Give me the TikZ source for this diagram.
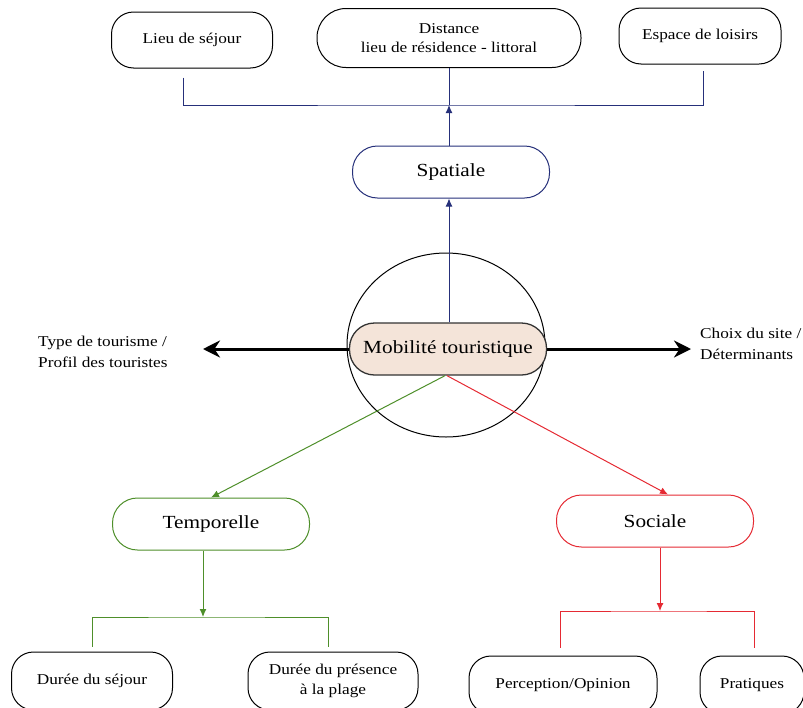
\documentclass[tikz,border=0pt]{standalone}
\usepackage{fontspec}
\setmainfont[FakeStretch=1.15]{Liberation Serif}
\usepackage{xcolor}
\usepackage{tikz}
\usetikzlibrary{arrows.meta,positioning,shapes.geometric}
\definecolor{navy}{HTML}{26307A}
\definecolor{leafgreen}{HTML}{4E8F2A}
\definecolor{alertred}{HTML}{E52A33}
\definecolor{sand}{HTML}{F4E4D9}
\tikzset{
  leafbox/.style={
    rounded corners=22pt,draw=black,fill=white,
    line width=1pt,minimum height=56pt,inner sep=2pt,
    align=center,font=\fontsize{15}{19.5}\selectfont
  },
  dimbox/.style={
    rounded corners=25pt,fill=white,
    line width=1pt,minimum width=197pt,minimum height=52pt,
    align=center,font=\fontsize{18.5}{22}\selectfont
  },
  corebox/.style={
    dimbox,draw=black!80,fill=sand,line width=1.3pt
  },
  sidelabel/.style={
    inner sep=0pt,align=left,font=\fontsize{15}{20.5}\selectfont
  },
  navyline/.style={draw=navy,line width=1pt},
  navyarrow/.style={-{Latex[length=8pt,width=7pt]},draw=navy,line width=1pt},
  greenline/.style={draw=leafgreen,line width=1pt},
  greenarrow/.style={-{Latex[length=8pt,width=7pt]},draw=leafgreen,line width=1pt},
  redline/.style={draw=alertred,line width=1pt},
  redarrow/.style={-{Latex[length=8pt,width=7pt]},draw=alertred,line width=1pt},
  bigarrow/.style={-{Stealth[length=17pt,width=17pt]},draw=black,line width=3pt}
}

\begin{document}
\begin{tikzpicture}[x=1pt,y=-1pt]
\useasboundingbox (0,0) rectangle (803,707);
\clip (0,0) rectangle (803,707);

% top row
\node[leafbox,minimum width=161pt] (lieu) at (192,40) {Lieu de séjour};
\node[leafbox,minimum width=264pt,minimum height=59pt,rounded corners=29pt] (distance) at (449,38) {Distance\\lieu de résidence - littoral};
\node[leafbox,minimum width=162pt] (espace) at (700,36) {Espace de loisirs};
\coordinate (topbar) at (449,105);

% centre
\node[draw=black,line width=1pt,ellipse,minimum width=198pt,minimum height=184pt] (ring) at (446,345) {};
\node[dimbox,draw=navy] (spatiale) at (451,172) {Spatiale};
\node[corebox] (core) at (448,349) {Mobilité touristique};
\node[sidelabel,anchor=west] (profil) at (38,352) {Type de tourisme /\\Profil des touristes};
\node[sidelabel,anchor=west] (choix) at (700,344) {Choix du site /\\Déterminants};
\coordinate (lefttip) at (203,349);
\coordinate (righttip) at (691,349);

% second level
\node[dimbox,draw=leafgreen] (temporelle) at (211,524) {Temporelle};
\node[dimbox,draw=alertred] (sociale) at (655,521) {Sociale};
\coordinate (tempbar) at (203,617);
\coordinate (socbar) at (660,611);

% bottom row
\node[leafbox,minimum width=161pt,minimum height=58pt] (sejour) at (92,681) {Durée du séjour};
\node[leafbox,minimum width=170pt,minimum height=58pt] (presence) at (333,681) {Durée du présence\\à la plage};
\node[leafbox,minimum width=188pt,minimum height=58pt] (opinion) at (563,685) {Perception/Opinion};
\node[leafbox,minimum width=104pt,minimum height=58pt] (pratiques) at (752,685) {Pratiques};

\draw[navyline] ([xshift=-9pt,yshift=-9pt]lieu.south) |- (topbar) -| ([xshift=3pt,yshift=-6pt]espace.south);
\draw[navyline] (distance.south) -- (topbar);
\draw[navyarrow] (spatiale.north -| topbar) -- (topbar);
\draw[navyarrow] (core.north -| topbar) -- (spatiale.south -| topbar);

\draw[bigarrow] (core.west) -- (lefttip);
\draw[bigarrow] (core.east) -- (righttip);

\draw[greenarrow] ([xshift=-3pt]core.south) -- (temporelle.north);
\draw[redarrow] ([xshift=-1pt]core.south) -- ([xshift=13pt]sociale.north);

\draw[greenarrow] (temporelle.south -| tempbar) -- (tempbar);
\draw[greenline] ([yshift=5pt]sejour.north) |- (tempbar) -| ([xshift=-5pt,yshift=5pt]presence.north);
\draw[redarrow] (sociale.south -| socbar) -- (socbar);
\draw[redline] ([xshift=-3pt,yshift=8pt]opinion.north) |- (socbar) -| ([xshift=2pt,yshift=8pt]pratiques.north);
\end{tikzpicture}
\end{document}
